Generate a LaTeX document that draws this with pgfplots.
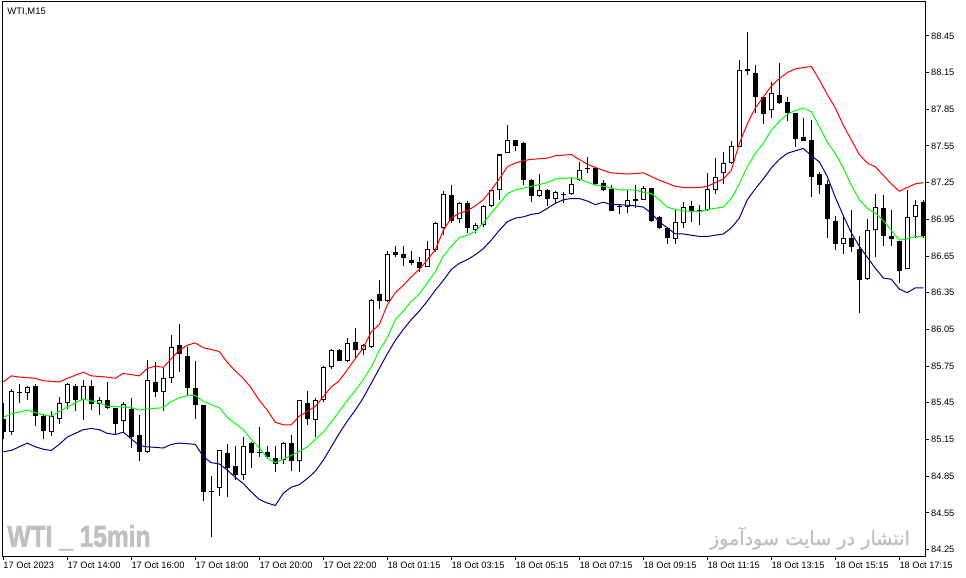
\documentclass[border=0pt]{standalone}
\usepackage{pgfplots}
\pgfplotsset{compat=1.18}
\usepackage{pgfplotstable}
\usepackage{graphicx}
\usepackage{fontspec}
\setmainfont{Liberation Sans}
\newfontfamily\arabicfont[Script=Arabic, FakeBold=1.2]{DejaVu Sans}
\newfontfamily\wmfont[FakeBold=2.5]{Liberation Sans Bold}
\TeXXeTstate=1
\definecolor{wmgray}{RGB}{192,192,192}
\definecolor{bandred}{RGB}{255,0,0}
\definecolor{bandgreen}{RGB}{0,255,0}
\definecolor{bandblue}{RGB}{0,0,140}

\pgfplotstableread{
i O H L C
1 85.21 85.56 85.19 85.55
3 85.53 85.59 85.47 85.58
6 85.21 85.38 85.18 85.34
7 85.32 85.50 85.28 85.45
8 85.45 85.61 85.40 85.60
10 85.47 85.64 85.31 85.59
12 85.44 85.50 85.35 85.47
15 85.30 85.46 85.21 85.44
18 85.05 85.80 85.04 85.64
20 85.54 85.74 85.38 85.65
21 85.65 86.00 85.61 85.91
27 84.75 85.06 84.69 85.06
30 84.86 85.17 84.82 85.10
35 84.98 85.13 84.95 85.12
37 84.97 85.47 84.88 85.47
39 85.31 85.49 85.17 85.47
40 85.47 85.75 85.46 85.74
41 85.74 85.89 85.73 85.88
43 85.79 85.98 85.78 85.94
45 85.88 85.93 85.84 85.92
46 85.91 86.30 85.90 86.29
48 86.28 86.69 86.27 86.67
53 86.56 86.77 86.56 86.71
54 86.70 86.93 86.68 86.92
55 86.88 87.18 86.82 87.16
57 86.95 87.09 86.92 87.08
59 86.86 86.92 86.84 86.90
60 86.90 87.07 86.89 87.06
61 87.06 87.20 87.05 87.19
62 87.19 87.48 87.11 87.48
63 87.49 87.72 87.49 87.60
67 87.14 87.32 87.13 87.19
69 87.12 87.18 87.08 87.17
71 87.16 87.29 87.15 87.24
72 87.27 87.42 87.26 87.35
78 87.05 87.19 87.00 87.11
80 87.11 87.22 87.11 87.21
84 86.79 87.03 86.75 86.93
85 86.92 87.09 86.88 87.05
88 87.03 87.33 87.02 87.20
89 87.19 87.45 87.16 87.30
90 87.33 87.50 87.24 87.41
91 87.41 87.59 87.40 87.55
92 87.54 88.25 87.54 88.17
96 87.84 88.07 87.78 87.98
105 86.75 86.98 86.67 86.80
108 86.46 86.95 86.45 86.86
109 86.86 87.16 86.64 87.05
113 86.54 87.19 86.54 86.97
114 86.97 87.11 86.80 87.07
}\bulls

\pgfplotstableread{
i O H L C
0 85.32 85.45 85.15 85.21
2 85.54 85.60 85.45 85.53
4 85.59 85.60 85.26 85.34
5 85.34 85.36 85.15 85.22
9 85.59 85.60 85.38 85.47
11 85.59 85.64 85.39 85.44
13 85.47 85.62 85.40 85.41
14 85.41 85.41 85.19 85.28
16 85.40 85.49 85.08 85.17
17 85.19 85.35 84.97 85.05
19 85.62 85.78 85.50 85.54
22 85.92 86.09 85.70 85.85
23 85.83 85.91 85.51 85.57
24 85.57 85.79 85.32 85.43
25 85.43 85.43 84.65 84.72
26 84.73 84.85 84.35 84.72
28 85.04 85.11 84.68 84.92
29 84.93 85.10 84.82 84.86
31 85.12 85.13 84.92 85.04
32 85.05 85.25 85.01 85.04
33 85.05 85.10 84.99 85.01
34 85.00 85.10 84.88 84.95
36 85.12 85.19 84.89 84.97
38 85.45 85.55 85.27 85.32
42 85.88 85.89 85.79 85.79
44 85.95 86.06 85.81 85.88
47 86.34 86.45 86.22 86.28
49 86.68 86.73 86.64 86.66
50 86.67 86.73 86.57 86.63
51 86.62 86.69 86.58 86.59
52 86.60 86.64 86.52 86.55
56 87.15 87.23 86.92 86.94
58 87.08 87.10 86.84 86.88
64 87.60 87.60 87.51 87.55
65 87.57 87.58 87.23 87.27
66 87.27 87.28 87.09 87.14
68 87.19 87.20 87.06 87.12
70 87.16 87.17 87.08 87.15
73 87.37 87.46 87.33 87.36
74 87.37 87.38 87.23 87.24
75 87.25 87.27 87.18 87.19
76 87.20 87.23 87.02 87.02
77 87.06 87.07 86.99 87.05
79 87.12 87.23 87.04 87.10
81 87.21 87.21 86.93 86.94
82 86.97 86.98 86.87 86.88
83 86.88 86.89 86.75 86.80
86 87.06 87.10 86.93 87.02
87 87.03 87.07 86.90 87.02
93 88.18 88.48 88.13 88.16
94 88.15 88.21 87.82 87.95
95 87.95 87.95 87.73 87.81
97 87.97 88.23 87.89 87.90
98 87.91 87.95 87.75 87.82
99 87.82 87.82 87.54 87.61
100 87.62 87.78 87.59 87.59
101 87.60 87.76 87.13 87.30
102 87.32 87.34 87.16 87.23
103 87.24 87.27 86.80 86.95
104 86.94 86.98 86.70 86.75
106 86.80 87.03 86.68 86.72
107 86.71 86.81 86.18 86.45
110 87.04 87.15 86.73 86.81
111 86.81 87.03 86.73 86.79
112 86.77 86.77 86.43 86.53
115 87.09 87.11 86.80 86.81
}\bears

\pgfplotstableread{
i p
0 85.62
1 85.67
2 85.66
4 85.65
5 85.63
7 85.62
8 85.65
10 85.70
11 85.67
13 85.66
14 85.65
15 85.69
17 85.67
18 85.73
19 85.75
20 85.74
21 85.81
22 85.88
23 85.92
24 85.94
25 85.90
27 85.87
28 85.78
29 85.71
30 85.65
31 85.57
32 85.47
33 85.39
34 85.29
35 85.27
36 85.27
37 85.34
38 85.38
39 85.42
40 85.50
41 85.58
42 85.63
43 85.72
44 85.81
45 85.90
46 86.03
47 86.09
48 86.25
49 86.35
50 86.41
51 86.48
52 86.54
53 86.62
54 86.70
55 86.86
56 86.96
57 87.00
58 87.02
59 87.06
60 87.11
61 87.19
62 87.28
63 87.38
64 87.41
65 87.43
66 87.44
68 87.45
69 87.47
71 87.48
72 87.44
73 87.40
75 87.35
76 87.33
78 87.32
80 87.33
82 87.27
84 87.22
85 87.21
87 87.21
88 87.22
90 87.28
91 87.35
92 87.57
93 87.73
94 87.86
95 87.95
96 88.04
97 88.10
98 88.15
99 88.18
100 88.19
101 88.20
102 88.09
103 87.97
104 87.86
105 87.72
106 87.60
107 87.48
108 87.41
109 87.38
110 87.31
111 87.24
112 87.18
113 87.21
114 87.24
115 87.25
}\upperband

\pgfplotstableread{
i p
0 85.33
1 85.36
3 85.39
4 85.37
5 85.35
6 85.34
7 85.38
9 85.45
10 85.48
12 85.45
13 85.42
14 85.42
16 85.41
17 85.39
18 85.40
20 85.41
21 85.46
22 85.49
23 85.51
24 85.51
25 85.46
27 85.41
28 85.33
29 85.28
30 85.23
31 85.15
32 85.08
33 85.00
34 84.96
35 84.99
36 85.02
37 85.05
38 85.09
39 85.15
40 85.21
41 85.29
42 85.38
43 85.47
44 85.55
45 85.64
46 85.74
47 85.88
48 85.98
49 86.13
50 86.20
51 86.28
52 86.34
53 86.43
54 86.52
55 86.65
56 86.73
57 86.80
58 86.82
59 86.85
60 86.92
61 87.00
62 87.08
63 87.16
64 87.19
66 87.22
68 87.25
69 87.28
71 87.29
72 87.28
74 87.23
75 87.22
77 87.19
79 87.19
80 87.17
81 87.16
82 87.11
83 87.05
84 87.03
85 87.02
87 87.01
88 87.03
90 87.05
91 87.12
92 87.24
93 87.38
94 87.49
95 87.57
96 87.68
97 87.75
98 87.81
99 87.84
100 87.86
101 87.83
102 87.71
103 87.58
104 87.49
105 87.37
106 87.23
107 87.11
108 87.04
109 87.00
110 86.94
111 86.86
112 86.78
113 86.79
114 86.81
115 86.81
}\midband

\pgfplotstableread{
i p
0 85.05
1 85.06
2 85.09
3 85.12
4 85.09
5 85.07
6 85.06
7 85.11
8 85.17
10 85.23
11 85.24
12 85.23
13 85.20
14 85.19
15 85.21
17 85.10
18 85.09
20 85.08
21 85.11
22 85.12
24 85.11
25 85.01
26 84.96
27 84.95
28 84.90
29 84.84
30 84.79
31 84.72
32 84.66
33 84.63
34 84.61
35 84.71
36 84.76
37 84.78
38 84.83
39 84.89
40 84.98
41 85.09
42 85.20
43 85.30
44 85.39
45 85.49
46 85.61
47 85.73
48 85.85
49 85.96
50 86.05
51 86.13
52 86.20
53 86.28
54 86.37
55 86.45
56 86.54
57 86.59
58 86.62
59 86.66
60 86.71
61 86.78
62 86.86
63 86.93
64 86.96
65 86.97
66 86.99
67 87.00
68 87.04
69 87.08
70 87.11
71 87.12
72 87.12
73 87.10
74 87.07
75 87.09
76 87.07
77 87.07
79 87.06
80 87.05
81 87.00
82 86.93
83 86.88
84 86.83
85 86.83
87 86.81
88 86.81
90 86.83
91 86.88
92 86.96
93 87.11
94 87.20
95 87.28
96 87.37
97 87.44
98 87.49
99 87.51
100 87.53
101 87.47
102 87.42
103 87.30
104 87.13
105 86.98
106 86.84
107 86.73
108 86.64
109 86.55
110 86.47
111 86.46
112 86.38
113 86.35
114 86.39
115 86.39
}\lowerband

\pgfplotsset{
  candle/.style 2 args={draw=none, mark=none, forget plot,
    error bars/.cd, y dir=plus, y explicit, error mark=none,
    error bar style={line width=#1, draw=#2, solid}},
}

\begin{document}
\begin{tikzpicture}
\useasboundingbox (0,0) rectangle (966bp,578bp);
\begin{axis}[
  at={(2bp,22bp)}, anchor=south west,
  scale only axis, width=923.5bp, height=554bp,
  xmin=-0.1625, xmax=115.275, ymin=84.197, ymax=88.727,
  axis line style={black, line width=1bp},
  tick align=outside, major tick length=3.5bp,
  tick style={black, line width=1bp},
  xtick pos=left, ytick pos=right,
  xticklabel pos=left, yticklabel pos=right,
  xtick={0,8,...,112},
  xticklabels={17 Oct 2023,17 Oct 14:00,17 Oct 16:00,17 Oct 18:00,17 Oct 20:00,17 Oct 22:00,18 Oct 01:15,18 Oct 03:15,18 Oct 05:15,18 Oct 07:15,18 Oct 09:15,18 Oct 11:15,18 Oct 13:15,18 Oct 15:15,18 Oct 17:15},
  ytick={84.25,84.55,84.85,85.15,85.45,85.75,86.05,86.35,86.65,86.95,87.25,87.55,87.85,88.15,88.45},
  /pgf/number format/assume math mode=true,
  /pgf/number format/fixed,
  /pgf/number format/fixed zerofill,
  /pgf/number format/precision=2,
  ticklabel style={font=\fontsize{9.3}{11}\selectfont, inner sep=0pt},
  xticklabel style={anchor=north west, yshift=-2bp},
  yticklabel style={anchor=west, xshift=2bp},
  clip=true,
]
% wicks
\addplot[candle={1bp}{black}]
  table[x=i, y=L, y error plus expr=\thisrow{H}-\thisrow{L}] {\bulls};
\addplot[candle={1bp}{black}]
  table[x=i, y=L, y error plus expr=\thisrow{H}-\thisrow{L}] {\bears};
% bearish bodies
\addplot[candle={5bp}{black}]
  table[x=i, y=C, y error plus expr=\thisrow{O}-\thisrow{C}] {\bears};
% bullish bodies: outline then white inside
\addplot[candle={5bp}{black}]
  table[x=i, y=O, y error plus expr=\thisrow{C}-\thisrow{O}] {\bulls};
\addplot[candle={3bp}{white}]
  table[x=i, y expr=\thisrow{O}+0.0082, y error plus expr={max(\thisrow{C}-\thisrow{O}-0.0164,0)}] {\bulls};
% bands
\addplot[bandred, line width=1bp, mark=none] table[x=i, y=p] {\upperband};
\addplot[bandgreen, line width=1bp, mark=none] table[x=i, y=p] {\midband};
\addplot[bandblue, line width=1bp, mark=none] table[x=i, y=p] {\lowerband};
\end{axis}
\node[anchor=base west, inner sep=0pt] at (7.3bp,563bp) {\fontsize{9.5}{11}\selectfont WTI,M15};
\node[anchor=base west, inner sep=0pt, text=wmgray] at (7.3bp,31.3bp) {\resizebox{143bp}{21.7bp}{\wmfont WTI \_ 15min}};
\node[anchor=base east, inner sep=0pt, text=wmgray] at (910bp,33bp) {\resizebox{200bp}{!}{\arabicfont\beginR انتشار در سایت سودآموز\endR}};
\end{tikzpicture}
\end{document}
